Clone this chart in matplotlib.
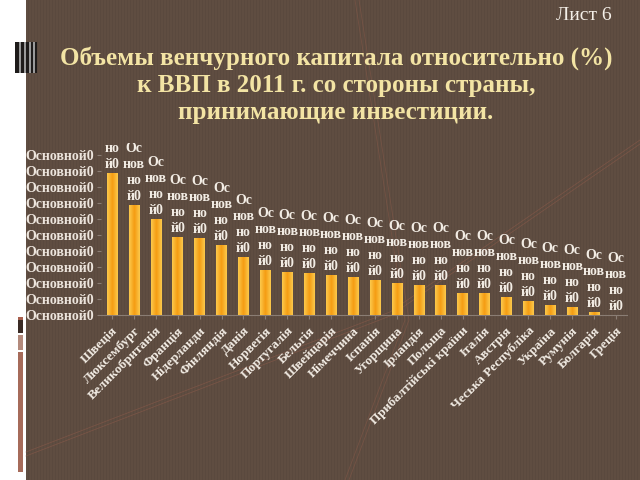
import matplotlib
matplotlib.use("Agg")
import matplotlib.pyplot as plt
from matplotlib.patches import Rectangle
from matplotlib.colors import LinearSegmentedColormap
import numpy as np

plt.rcParams['font.family'] = ['Liberation Serif', 'DejaVu Serif']

# страны (подписи оси X)
countries = ["Швеція", "Люксембург", "Великобританія", "Франція", "Нідерланди",
             "Фінляндія", "Данія", "Норвегія", "Португалія", "Бельгія",
             "Швейцарія", "Німеччина", "Іспанія", "Угорщина", "Ірландія",
             "Польща", "Прибалтійські країни", "Італія", "Австрія",
             "Чеська Республіка", "Україна", "Румунія", "Болгарія", "Греція"]

# венчурный капитал, % ВВП (оценка по рисунку)
vc_share = [0.089, 0.069, 0.060, 0.049, 0.048, 0.044, 0.036, 0.028, 0.027, 0.026,
            0.025, 0.024, 0.022, 0.020, 0.019, 0.019, 0.014, 0.014, 0.011, 0.009,
            0.006, 0.005, 0.002, 0.000]

y_ticks = [0.00, 0.01, 0.02, 0.03, 0.04, 0.05, 0.06, 0.07, 0.08, 0.09, 0.10]
tick_text = "Основной0"
bar_text = "Ос\nнов\nно\nй0"

title = "Объемы венчурного капитала относительно (%)\nк ВВП в 2011 г. со стороны страны,\nпринимающие инвестиции."

bg = "#5f4d41"
fig = plt.figure(figsize=(6.4, 4.8), dpi=100)
fig.patch.set_facecolor("white")

def px(xp, yp):
    return xp / 640, 1 - yp / 480

# фон слайда
fig.patches.append(Rectangle((26/640, 0), 1 - 26/640, 1, transform=fig.transFigure,
                             facecolor=bg, edgecolor="none", zorder=-3))
# вертикальная штриховка фона
for xp in range(28, 640, 3):
    fig.add_artist(plt.Line2D([xp/640, xp/640], [0, 1], transform=fig.transFigure,
                              color="#54443a", lw=0.6, alpha=0.45, zorder=-2))
# декоративные линии фона
for off in (0, 4):
    pts = [px(26, 452 + off), px(390, 312 + off), px(640, 140 + off)]
    fig.add_artist(plt.Line2D([p[0] for p in pts], [p[1] for p in pts], transform=fig.transFigure,
                              color="#8a5a4a", lw=0.6, alpha=0.6, zorder=-1))
    pts = [px(355 + off, 0), px(405 + off, 320), px(345 + off, 480)]
    fig.add_artist(plt.Line2D([p[0] for p in pts], [p[1] for p in pts], transform=fig.transFigure,
                              color="#8a5a4a", lw=0.6, alpha=0.5, zorder=-1))

# левые декоративные элементы
fig.patches.append(Rectangle((15/640, 1 - 73/480), 22/640, 31/480, transform=fig.transFigure,
                             facecolor="#1e1b1a", edgecolor="none", zorder=1))
for xb in (19, 24, 29, 33):
    fig.patches.append(Rectangle((xb/640, 1 - 73/480), 1.5/640, 31/480, transform=fig.transFigure,
                                 facecolor="#9a9a9a", edgecolor="none", zorder=1.1))
fig.patches.append(Rectangle((18/640, 1 - 320/480), 5/640, 3/480, transform=fig.transFigure,
                             facecolor="#a8604e", edgecolor="none", zorder=1))
fig.patches.append(Rectangle((18/640, 1 - 333/480), 5/640, 13/480, transform=fig.transFigure,
                             facecolor="#3a2b25", edgecolor="none", zorder=1))
fig.patches.append(Rectangle((18/640, 1 - 350/480), 5/640, 15/480, transform=fig.transFigure,
                             facecolor="#b38a7c", edgecolor="none", zorder=1))
fig.patches.append(Rectangle((18/640, 1 - 472/480), 5/640, 120/480, transform=fig.transFigure,
                             facecolor="#a66b5a", edgecolor="none", zorder=1))

fig.text(0.955, 1 - 16/480, "Лист 6", ha="right", va="center", fontsize=14, color="#f4efe8")
fig.text(0.525, 1 - 85/480, title, ha="center", va="center", fontsize=18, fontweight="bold",
         color="#f3e4a4", linespacing=1.2)

ax = fig.add_axes([101/640, 1 - 315/480, 526/640, 172/480])
ax.set_zorder(5)
ax.set_facecolor("none")
x = np.arange(len(countries))
bars = ax.bar(x, vc_share, width=0.48, color="#f6a91f", edgecolor="none", zorder=3)

# градиентная заливка столбцов
bar_cmap = LinearSegmentedColormap.from_list("bar", ["#fcc94c", "#f59c12", "#fcc94c"])
grad = np.linspace(0, 1, 64).reshape(1, -1)
for b in bars:
    if b.get_height() <= 0:
        continue
    im = ax.imshow(grad, extent=[b.get_x(), b.get_x() + b.get_width(), 0, b.get_height()],
                   aspect="auto", cmap=bar_cmap, zorder=3.5, interpolation="bilinear")
    im.set_clip_path(b)

for xi, v in zip(x, vc_share):
    ax.annotate(bar_text, (xi, v), xytext=(0, 1.5), textcoords="offset points",
                ha="center", va="bottom", fontsize=10, fontweight="bold",
                color="#f2ece4", linespacing=1.3, clip_on=True)

ax.set_xlim(-0.5, len(countries) - 0.5)
ax.set_ylim(0, 0.1075)
ax.set_yticks(y_ticks)
ax.set_yticklabels([tick_text] * len(y_ticks), fontsize=10, fontweight="bold", color="#ece4dc")
ax.set_xticks(x)
ax.set_xticklabels(countries, rotation=45, ha="right", rotation_mode="anchor",
                   fontsize=9.5, fontweight="bold", color="#f2ece4")
ax.tick_params(axis="y", length=3, color="#8a7d74", pad=2)
ax.tick_params(axis="x", length=3, color="#8a7d74", pad=4)
for s in ("top", "right", "left"):
    ax.spines[s].set_visible(False)
ax.spines["bottom"].set_color("#8a7d74")
ax.spines["bottom"].set_linewidth(0.8)

fig.savefig("out.png", dpi=100, facecolor=fig.get_facecolor())
